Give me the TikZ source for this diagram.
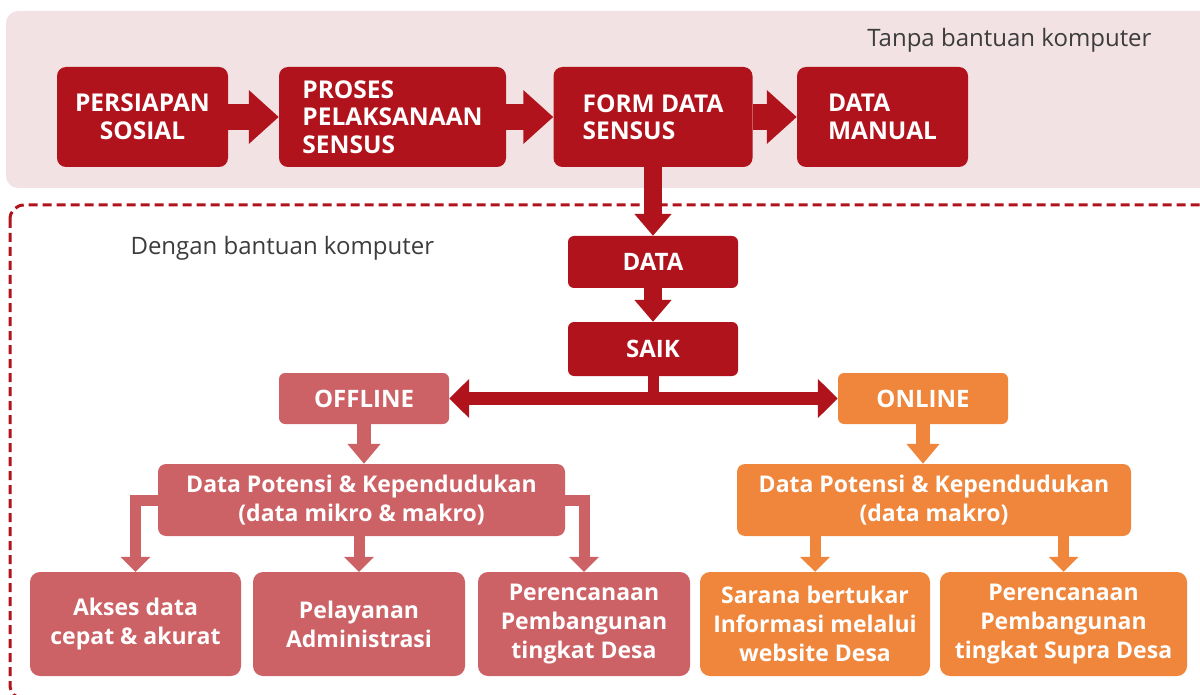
\documentclass[tikz,border=0pt]{standalone}
\usepackage{fontspec}
\setmainfont{Open Sans}
\usetikzlibrary{arrows.meta,positioning}
\definecolor{sensred}{RGB}{177,19,28}
\definecolor{offred}{RGB}{204,98,102}
\definecolor{onorange}{RGB}{239,134,59}
\definecolor{panelpink}{RGB}{242,226,228}
\definecolor{labelgray}{RGB}{60,60,60}
\tikzset{
  stagebox/.style={fill=sensred, rounded corners=9pt, text=white, minimum height=100pt, inner sep=0pt, font=\fontsize{24.5}{27.5}\selectfont\bfseries},
  databox/.style={fill=sensred, rounded corners=6pt, text=white, minimum width=170pt, inner sep=0pt, font=\fontsize{24}{27}\selectfont\bfseries},
  modebox/.style={rounded corners=6pt, text=white, minimum width=170pt, minimum height=51pt, inner sep=0pt, font=\fontsize{24}{27}\selectfont\bfseries},
  groupbox/.style={rounded corners=8pt, text=white, align=center, minimum height=72pt, inner sep=0pt, font=\fontsize{23}{29}\selectfont\bfseries},
  usebox/.style={rounded corners=10pt, text=white, align=center, minimum height=104pt, inner sep=0pt, font=\fontsize{23}{29}\selectfont\bfseries},
  stagearrow/.style={draw=sensred, line width=26pt, -{Triangle[length=30pt, width=52pt]}},
  dataarrow/.style={draw=sensred, line width=18pt, -{Triangle[length=22pt, width=36pt]}},
  splitarrow/.style={draw=sensred, line width=13pt, {Triangle[length=20pt, width=38pt]}-{Triangle[length=20pt, width=38pt]}},
  modearrow/.style={line width=14pt, -{Triangle[length=20pt, width=32pt]}},
  usearrow/.style={line width=11pt, -{Triangle[length=15pt, width=29pt]}},
  arealabel/.style={text=labelgray, font=\fontsize{24}{27}\selectfont}
}

\begin{document}
\begin{tikzpicture}[x=1pt, y=-1pt]
  \clip (0,0) rectangle (1200,695);
  % areas
  \fill[panelpink, rounded corners=12pt] (6,11) rectangle (1230,188);
  \draw[sensred, line width=3pt, dash pattern=on 9pt off 5pt, rounded corners=14pt] (10,205) rectangle (1240,699);
  \node[arealabel, anchor=east] (tanpa) at (1155,40) {Tanpa bantuan komputer};
  \node[arealabel, anchor=west] (dengan) at (127,248) {Dengan bantuan komputer};

  % without computer
  \node[stagebox, minimum width=171pt, align=center] (persiapan) at (142.5,117) {PERSIAPAN\\SOSIAL};
  \node[stagebox, minimum width=227pt, align=left] (proses) at (392.5,117) {PROSES\\PELAKSANAAN\\SENSUS};
  \node[stagebox, minimum width=199pt, align=left] (form) at (653,117) {FORM DATA\\SENSUS};
  \node[stagebox, minimum width=171pt, align=left] (manual) at (882.5,117) {DATA\\MANUAL};
  \draw[stagearrow] (persiapan) -- (proses);
  \draw[stagearrow] (proses) -- (form);
  \draw[stagearrow] (form) -- (manual);

  % with computer
  \node[databox, minimum height=52pt] (data) at (653,262) {DATA};
  \node[databox, minimum height=54pt] (saik) at (653,349) {SAIK};
  \draw[dataarrow] (form) -- (data);
  \draw[dataarrow] (data) -- (saik);

  \node[modebox, fill=offred] (offline) at (364,398.5) {OFFLINE};
  \node[modebox, fill=onorange] (online) at (923,398.5) {ONLINE};
  \draw[sensred, line width=11pt] (saik.south) -- (saik.south |- offline.east);
  \draw[splitarrow] (offline) -- (online);

  \node[groupbox, fill=offred, minimum width=407pt] (dpoff) at (361.5,500) {Data Potensi \& Kependudukan\\(data mikro \& makro)};
  \node[groupbox, fill=onorange, minimum width=394pt] (dpon) at (934,500) {Data Potensi \& Kependudukan\\(data makro)};
  \draw[modearrow, draw=offred] (offline) -- (offline |- dpoff.north);
  \draw[modearrow, draw=onorange] (online) -- (online |- dpon.north);

  \node[usebox, fill=offred, minimum width=211pt] (akses) at (135.5,624) {Akses data\\cepat \& akurat};
  \node[usebox, fill=offred, minimum width=212pt] (pelayanan) at (359,624) {Pelayanan\\Administrasi};
  \node[usebox, fill=offred, minimum width=212pt] (desa) at (584,624) {Perencanaan\\Pembangunan\\tingkat Desa};
  \node[usebox, fill=onorange, minimum width=230pt] (sarana) at (815,624) {Sarana bertukar\\Informasi melalui\\website Desa};
  \node[usebox, fill=onorange, minimum width=247pt] (supra) at (1063.5,624) {Perencanaan\\Pembangunan\\tingkat Supra Desa};

  \draw[usearrow, draw=offred] (dpoff.west) -| (akses.north);
  \draw[usearrow, draw=offred] (pelayanan.north |- dpoff.south) -- (pelayanan.north);
  \draw[usearrow, draw=offred] (dpoff.east) -| (desa.north);
  \draw[usearrow, draw=onorange] (sarana.north |- dpon.south) -- (sarana.north);
  \draw[usearrow, draw=onorange] (supra.north |- dpon.south) -- (supra.north);
\end{tikzpicture}
\end{document}
